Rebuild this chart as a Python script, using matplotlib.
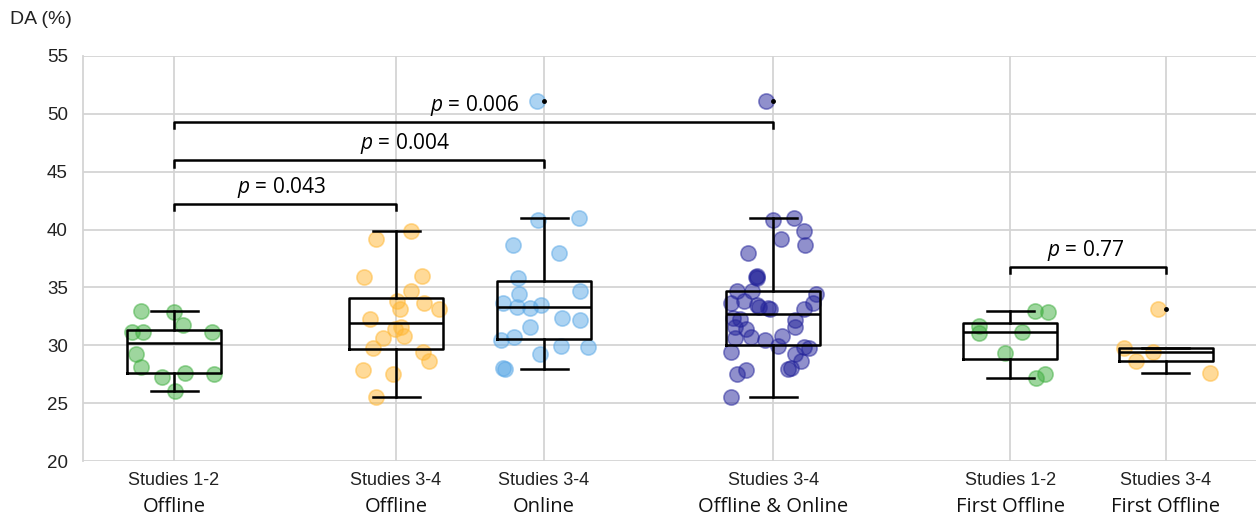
import numpy as np
import matplotlib.pyplot as plt

plt.rcParams['font.family'] = ['Liberation Sans', 'DejaVu Sans']
plt.rcParams['mathtext.fontset'] = 'custom'
plt.rcParams['mathtext.it'] = 'Open Sans:italic'
plt.rcParams['mathtext.rm'] = 'Open Sans'

# DA (%) per group
s12_offline = [32.96, 32.85, 31.73, 31.12, 31.18, 31.12, 29.27, 28.10, 27.52, 27.58, 27.23, 26.08]
s34_offline = [39.90, 39.16, 35.93, 36.02, 34.72, 33.85, 33.63, 33.11, 33.16, 32.27,
               31.61, 31.38, 30.63, 30.78, 29.77, 29.42, 28.62, 27.87, 27.55, 25.53]
s34_online = [51.14, 40.98, 40.80, 38.67, 38.00, 35.79, 34.69, 34.46, 33.68, 33.34, 33.22,
              33.46, 32.21, 32.36, 31.61, 30.49, 30.75, 29.83, 29.22, 29.91, 27.93, 28.06]
s34_both = s34_offline + s34_online
s12_first = [32.96, 32.85, 31.67, 31.15, 31.09, 29.31, 27.15, 27.49]
s34_first = [33.14, 29.77, 29.45, 28.64, 27.58]

groups = [s12_offline, s34_offline, s34_online, s34_both, s12_first, s34_first]
line1 = ['Studies 1-2', 'Studies 3-4', 'Studies 3-4', 'Studies 3-4', 'Studies 1-2', 'Studies 3-4']
line2 = ['Offline', 'Offline', 'Online', 'Offline & Online', 'First Offline', 'First Offline']
colors = ['#3fae3f', '#ffb733', '#5aa8e6', '#23239a', '#3fae3f', '#ffb733']

# comparisons: (group i, group j, label)
comparisons = [(0, 1, '0.043'), (0, 2, '0.004'), (0, 3, '0.006'), (4, 5, '0.77')]
bracket_y = [42.2, 46.0, 49.3, 36.8]
label_x = [0.73, 1.56, 2.03, 6.16]

pos = [0, 1.5, 2.5, 4.05, 5.65, 6.7]

fig = plt.figure(figsize=(12.56, 5.15), dpi=100)
ax = fig.add_axes([83 / 1256, 54 / 515, 1 - 83 / 1256, 405 / 515])

grid_c = '#d4d4d4'
ax.set_ylim(20, 55)
ax.set_xlim(-0.615, 7.31)
ax.set_yticks(range(20, 56, 5))
ax.set_xticks(pos)
ax.set_xticklabels([''] * len(pos))
ax.grid(True, color=grid_c, lw=1.3)
ax.set_axisbelow(True)
for side in ['top', 'right', 'bottom']:
    ax.spines[side].set_visible(False)
ax.spines['left'].set_color(grid_c)
ax.spines['left'].set_linewidth(1.3)
ax.tick_params(length=0, labelsize=13.5, pad=11, labelcolor='#222222')

rng = np.random.default_rng(11)
for p, vals, c in zip(pos, groups, colors):
    v = np.array(vals)
    q1, q3 = np.percentile(v, [25, 75])
    out = (v > q3 + 1.5 * (q3 - q1)) | (v < q1 - 1.5 * (q3 - q1))
    jit = rng.uniform(-0.3, 0.3, len(v))
    # outliers stay close to the centre line, next to their flier dot
    jit[out] = -0.05
    ax.scatter(p + jit, v, s=120, color=c, alpha=0.5, edgecolors=c, linewidths=1.2, zorder=2)

lw = 1.8
ax.boxplot(groups, positions=pos, widths=0.635, manage_ticks=False,
           boxprops=dict(color='k', lw=lw), medianprops=dict(color='k', lw=lw),
           whiskerprops=dict(color='k', lw=lw), capprops=dict(color='k', lw=lw),
           flierprops=dict(marker='o', markersize=2.5, markerfacecolor='k', markeredgecolor='k'),
           zorder=3)

for (i, j, lab), y, tx in zip(comparisons, bracket_y, label_x):
    ax.plot([pos[i], pos[i], pos[j], pos[j]], [y - 0.55, y, y, y - 0.55], color='k', lw=1.8, zorder=4)
    ax.text(tx, y + 1.4, r'$p$ = ' + lab, ha='center', va='center', fontsize=15,
            family='Open Sans', zorder=4)

trans = ax.get_xaxis_transform()
for p, a, b in zip(pos, line1, line2):
    ax.text(p, -0.047, a, transform=trans, ha='center', va='center', fontsize=13, color='#222222')
    ax.text(p, -0.114, b, transform=trans, ha='center', va='center', fontsize=14.5,
            family='Open Sans', color='#111111')

fig.text(10 / 1256, 1 - 20 / 515, 'DA (%)', ha='left', va='center', fontsize=14, color='#222222')

fig.savefig('out.png', dpi=100)
